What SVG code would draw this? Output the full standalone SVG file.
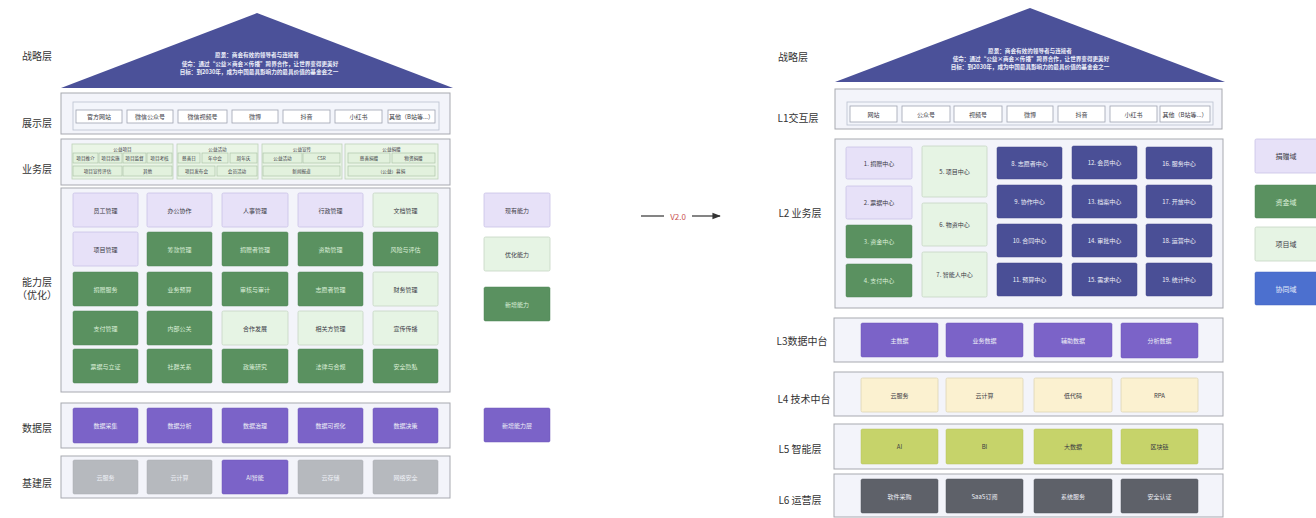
<svg xmlns="http://www.w3.org/2000/svg" width="1316" height="518" viewBox="0 0 1316 518">
<defs>
<style>
text{font-family:"Noto Sans CJK SC","Noto Sans",sans-serif;text-anchor:middle;dominant-baseline:central}
.lbl{font-size:10px;fill:#333;text-anchor:middle}
.roof{fill:#4b5199}
.rt{font-size:5.6px;fill:#eef0fa;font-weight:bold}
.layer{fill:#f3f4fa;stroke:#a7a9b0;stroke-width:1}
.inner{fill:#f3f5fb;stroke:#b9c0cf;stroke-width:0.8}
.wb{fill:#ffffff;stroke:#9ea3b1;stroke-width:0.8}
.lp{fill:#e7e1f8;stroke:#c9c1e6;stroke-width:0.8}
.lg{fill:#e6f4e4;stroke:#c5d5c3;stroke-width:0.8}
.gr{fill:#5a9160;stroke:#4f8456;stroke-width:0.5}
.pu{fill:#7b63c8;stroke:#6c56b8;stroke-width:0.5}
.gy{fill:#b6b9be;stroke:#a9acb2;stroke-width:0.5}
.db{fill:#4a4f96;stroke:#40458a;stroke-width:0.5}
.ly{fill:#fbf1d0;stroke:#ddd5b5;stroke-width:0.8}
.yg{fill:#c6d36a;stroke:#b5c25c;stroke-width:0.5}
.dg{fill:#5e6169;stroke:#53565e;stroke-width:0.5}
.bl{fill:#4c70cf;stroke:#4263bd;stroke-width:0.5}
.bgp{fill:#eaf5e6;stroke:#bdd2b8;stroke-width:0.8}
.bit{fill:#e2f1dd;stroke:#aec6a9;stroke-width:0.7}
.t{font-size:6px;fill:#3a3a44}
.tw{font-size:6px;fill:#eef0f6}
.tg{font-size:6px;fill:#dcefd9}
.ts{font-size:4.6px;fill:#3a3a44}
.tl{font-size:7px;fill:#3a3a44}
</style>
<marker id="ah" viewBox="0 0 10 10" refX="9" refY="5" markerWidth="7" markerHeight="7" orient="auto"><path d="M0,1 L10,5 L0,9 Z" fill="#333"/></marker>
</defs>
<rect width="1316" height="518" fill="#ffffff"/>

<!-- LEFT labels -->
<g id="left-labels">
<text class="lbl" x="37" y="55">战略层</text>
<text class="lbl" x="37" y="122">展示层</text>
<text class="lbl" x="37" y="168">业务层</text>
<text class="lbl" x="37" y="281">能力层</text>
<text class="lbl" x="37" y="294">（优化）</text>
<text class="lbl" x="37" y="427">数据层</text>
<text class="lbl" x="37" y="482">基建层</text>
</g>

<g id="left-roof">
<polygon class="roof" points="61,88 257,13 453,88"/>
<text class="rt" x="257" y="55">愿景：商会有效的领导者与连接者</text>
<text class="rt" x="260" y="63.5">使命：通过“公益×商会×传播”跨界合作，让世界变得更美好</text>
<text class="rt" x="259" y="72">目标：到2030年，成为中国最具影响力的最具价值的基金会之一</text>
</g>

<g id="left-display">
<rect class="layer" x="61" y="93" width="389" height="41"/>
<rect class="inner" x="73" y="102" width="366" height="28"/>
<rect class="wb" x="76" y="110" width="46" height="13"/><text class="t" x="99" y="116.5">官方网站</text>
<rect class="wb" x="127" y="110" width="46" height="13"/><text class="t" x="150" y="116.5">微信公众号</text>
<rect class="wb" x="178" y="110" width="49" height="13"/><text class="t" x="202.5" y="116.5">微信视频号</text>
<rect class="wb" x="232" y="110" width="46" height="13"/><text class="t" x="255" y="116.5">微博</text>
<rect class="wb" x="283" y="110" width="47" height="13"/><text class="t" x="306.5" y="116.5">抖音</text>
<rect class="wb" x="335" y="110" width="47" height="13"/><text class="t" x="358.5" y="116.5">小红书</text>
<rect class="wb" x="388" y="110" width="47" height="13"/><text class="t" x="411.5" y="116.5">其他（B站等...）</text>
</g>

<g id="left-business">
<rect class="layer" x="61" y="139" width="389" height="46"/>
<rect class="bgp" x="72" y="144" width="101" height="35"/>
<text class="ts" x="122.5" y="148.5">公益项目</text>
<rect class="bit" x="73" y="153" width="25" height="10"/><text class="ts" x="85.5" y="158">项目推介</text>
<rect class="bit" x="99" y="153" width="23" height="10"/><text class="ts" x="110.5" y="158">项目实施</text>
<rect class="bit" x="123" y="153" width="23" height="10"/><text class="ts" x="134.5" y="158">项目监督</text>
<rect class="bit" x="147" y="153" width="25" height="10"/><text class="ts" x="159.5" y="158">项目考核</text>
<rect class="bit" x="73" y="166" width="49" height="10"/><text class="ts" x="97.5" y="171">项目宣传评估</text>
<rect class="bit" x="123" y="166" width="49" height="10"/><text class="ts" x="147.5" y="171">其他</text>
<rect class="bgp" x="177" y="144" width="81" height="35"/>
<text class="ts" x="217.5" y="148.5">公益活动</text>
<rect class="bit" x="178" y="153" width="22" height="10"/><text class="ts" x="189" y="158">慈善日</text>
<rect class="bit" x="202" y="153" width="26" height="10"/><text class="ts" x="215" y="158">年中会</text>
<rect class="bit" x="230" y="153" width="27" height="10"/><text class="ts" x="243.5" y="158">周年庆</text>
<rect class="bit" x="178" y="166" width="37" height="10"/><text class="ts" x="196.5" y="171">项目发布会</text>
<rect class="bit" x="217" y="166" width="40" height="10"/><text class="ts" x="237" y="171">会员活动</text>
<rect class="bgp" x="262" y="144" width="80" height="35"/>
<text class="ts" x="302" y="148.5">公益宣传</text>
<rect class="bit" x="263" y="153" width="39" height="10"/><text class="ts" x="282.5" y="158">公益活动</text>
<rect class="bit" x="303" y="153" width="37" height="10"/><text class="ts" x="321.5" y="158">CSR</text>
<rect class="bit" x="263" y="166" width="77" height="10"/><text class="ts" x="301.5" y="171">新闻报道</text>
<rect class="bgp" x="345" y="144" width="93" height="35"/>
<text class="ts" x="391.5" y="148.5">公益捐赠</text>
<rect class="bit" x="348" y="153" width="42" height="10"/><text class="ts" x="369" y="158">慈善捐赠</text>
<rect class="bit" x="392" y="153" width="43" height="10"/><text class="ts" x="413.5" y="158">物资捐赠</text>
<rect class="bit" x="348" y="166" width="87" height="10"/><text class="ts" x="391.5" y="171">（公益）募捐</text>
</g>

<g id="left-capability">
<rect class="layer" x="61" y="188" width="389" height="204"/>
<!-- row1 -->
<g id="cap-1-1"><rect class="lp" x="73" y="193" width="65" height="34" rx="1.5"/><text class="t" x="105.5" y="210">员工管理</text></g>
<g id="cap-1-2"><rect class="lp" x="147" y="193" width="65" height="34" rx="1.5"/><text class="t" x="179.5" y="210">办公协作</text></g>
<g id="cap-1-3"><rect class="lp" x="222" y="193" width="66" height="34" rx="1.5"/><text class="t" x="255" y="210">人事管理</text></g>
<g id="cap-1-4"><rect class="lp" x="298" y="193" width="65" height="34" rx="1.5"/><text class="t" x="330.5" y="210">行政管理</text></g>
<g id="cap-1-5"><rect class="lg" x="373" y="193" width="65" height="34" rx="1.5"/><text class="t" x="405.5" y="210">文档管理</text></g>
<!-- row2 -->
<g id="cap-2-1"><rect class="lp" x="73" y="232" width="65" height="34" rx="1.5"/><text class="t" x="105.5" y="249">项目管理</text></g>
<g id="cap-2-2"><rect class="gr" x="147" y="232" width="65" height="34" rx="1.5"/><text class="tg" x="179.5" y="249">筹款管理</text></g>
<g id="cap-2-3"><rect class="gr" x="222" y="232" width="66" height="34" rx="1.5"/><text class="tg" x="255" y="249">捐赠者管理</text></g>
<g id="cap-2-4"><rect class="gr" x="298" y="232" width="65" height="34" rx="1.5"/><text class="tg" x="330.5" y="249">资助管理</text></g>
<g id="cap-2-5"><rect class="gr" x="373" y="232" width="65" height="34" rx="1.5"/><text class="tg" x="405.5" y="249">风险与评估</text></g>
<!-- row3 -->
<g id="cap-3-1"><rect class="gr" x="73" y="272" width="65" height="34" rx="1.5"/><text class="tg" x="105.5" y="289">捐赠服务</text></g>
<g id="cap-3-2"><rect class="gr" x="147" y="272" width="65" height="34" rx="1.5"/><text class="tg" x="179.5" y="289">业务预算</text></g>
<g id="cap-3-3"><rect class="gr" x="222" y="272" width="66" height="34" rx="1.5"/><text class="tg" x="255" y="289">审核与审计</text></g>
<g id="cap-3-4"><rect class="gr" x="298" y="272" width="65" height="34" rx="1.5"/><text class="tg" x="330.5" y="289">志愿者管理</text></g>
<g id="cap-3-5"><rect class="lg" x="373" y="272" width="65" height="34" rx="1.5"/><text class="t" x="405.5" y="289">财务管理</text></g>
<!-- row4 -->
<g id="cap-4-1"><rect class="gr" x="73" y="311" width="65" height="34" rx="1.5"/><text class="tg" x="105.5" y="328">支付管理</text></g>
<g id="cap-4-2"><rect class="gr" x="147" y="311" width="65" height="34" rx="1.5"/><text class="tg" x="179.5" y="328">内部公关</text></g>
<g id="cap-4-3"><rect class="lg" x="222" y="311" width="66" height="34" rx="1.5"/><text class="t" x="255" y="328">合作发展</text></g>
<g id="cap-4-4"><rect class="lg" x="298" y="311" width="65" height="34" rx="1.5"/><text class="t" x="330.5" y="328">相关方管理</text></g>
<g id="cap-4-5"><rect class="lg" x="373" y="311" width="65" height="34" rx="1.5"/><text class="t" x="405.5" y="328">宣传传播</text></g>
<!-- row5 -->
<g id="cap-5-1"><rect class="gr" x="73" y="349" width="65" height="34" rx="1.5"/><text class="tg" x="105.5" y="366">票据与立证</text></g>
<g id="cap-5-2"><rect class="gr" x="147" y="349" width="65" height="34" rx="1.5"/><text class="tg" x="179.5" y="366">社群关系</text></g>
<g id="cap-5-3"><rect class="gr" x="222" y="349" width="66" height="34" rx="1.5"/><text class="tg" x="255" y="366">政策研究</text></g>
<g id="cap-5-4"><rect class="gr" x="298" y="349" width="65" height="34" rx="1.5"/><text class="tg" x="330.5" y="366">法律与合规</text></g>
<g id="cap-5-5"><rect class="gr" x="373" y="349" width="65" height="34" rx="1.5"/><text class="tg" x="405.5" y="366">安全隐私</text></g>
</g>

<g id="left-data">
<rect class="layer" x="61" y="403" width="389" height="45"/>
<g id="data-1"><rect class="pu" x="73" y="408" width="65" height="35" rx="1.5"/><text class="tw" x="105.5" y="425.5">数据采集</text></g>
<g id="data-2"><rect class="pu" x="147" y="408" width="65" height="35" rx="1.5"/><text class="tw" x="179.5" y="425.5">数据分析</text></g>
<g id="data-3"><rect class="pu" x="222" y="408" width="66" height="35" rx="1.5"/><text class="tw" x="255" y="425.5">数据治理</text></g>
<g id="data-4"><rect class="pu" x="298" y="408" width="65" height="35" rx="1.5"/><text class="tw" x="330.5" y="425.5">数据可视化</text></g>
<g id="data-5"><rect class="pu" x="373" y="408" width="65" height="35" rx="1.5"/><text class="tw" x="405.5" y="425.5">数据决策</text></g>
</g>

<g id="left-base">
<rect class="layer" x="61" y="456" width="389" height="42"/>
<g id="base-1"><rect class="gy" x="73" y="460" width="65" height="34" rx="1.5"/><text class="tw" x="105.5" y="477">云服务</text></g>
<g id="base-2"><rect class="gy" x="147" y="460" width="65" height="34" rx="1.5"/><text class="tw" x="179.5" y="477">云计算</text></g>
<g id="base-3"><rect class="pu" x="222" y="460" width="66" height="34" rx="1.5"/><text class="tw" x="255" y="477">AI智能</text></g>
<g id="base-4"><rect class="gy" x="298" y="460" width="65" height="34" rx="1.5"/><text class="tw" x="330.5" y="477">云存储</text></g>
<g id="base-5"><rect class="gy" x="373" y="460" width="65" height="34" rx="1.5"/><text class="tw" x="405.5" y="477">网络安全</text></g>
</g>

<g id="left-legend">
<g id="lg-1"><rect class="lp" x="484" y="193" width="66" height="34" rx="1.5"/><text class="t" x="517" y="210">现有能力</text></g>
<g id="lg-2"><rect class="lg" x="484" y="237" width="66" height="34" rx="1.5"/><text class="t" x="517" y="254">优化能力</text></g>
<g id="lg-3"><rect class="gr" x="484" y="287" width="66" height="34" rx="1.5"/><text class="tg" x="517" y="304">新增能力</text></g>
<g id="lg-4"><rect class="pu" x="484" y="408" width="66" height="34" rx="1.5"/><text class="tw" x="517" y="425">新增能力层</text></g>
</g>

<g id="connectors">
<line x1="641" y1="216" x2="664" y2="216" stroke="#333" stroke-width="1.2"/>
<text x="678" y="216" style="font-size:8px;fill:#c9524f">V2.0</text>
<line x1="692" y1="216" x2="720" y2="216" stroke="#333" stroke-width="1.2" marker-end="url(#ah)"/>
</g>

<!-- RIGHT labels -->
<g id="right-labels">
<text class="lbl" x="793" y="56">战略层</text>
<text class="lbl" x="798" y="117">L1交互层</text>
<text class="lbl" x="800" y="212">L2 业务层</text>
<text class="lbl" x="802" y="340">L3数据中台</text>
<text class="lbl" x="804" y="398">L4 技术中台</text>
<text class="lbl" x="800" y="448">L5 智能层</text>
<text class="lbl" x="800" y="499">L6 运营层</text>
</g>

<g id="right-roof">
<polygon class="roof" points="835,82 1030,8 1225,82"/>
<text class="rt" x="1030" y="51">愿景：商会有效的领导者与连接者</text>
<text class="rt" x="1031" y="59">使命：通过“公益×商会×传播”跨界合作，让世界变得更美好</text>
<text class="rt" x="1030" y="67">目标：到2030年，成为中国最具影响力的最具价值的基金会之一</text>
</g>

<g id="right-L1">
<rect class="layer" x="835" y="89" width="387" height="40"/>
<rect class="inner" x="847" y="102" width="366" height="23"/>
<rect class="wb" x="850" y="106" width="47" height="16"/><text class="t" x="873.5" y="114">网站</text>
<rect class="wb" x="902" y="106" width="48" height="16"/><text class="t" x="926" y="114">公众号</text>
<rect class="wb" x="954" y="106" width="48" height="16"/><text class="t" x="978" y="114">视频号</text>
<rect class="wb" x="1007" y="106" width="46" height="16"/><text class="t" x="1030" y="114">微博</text>
<rect class="wb" x="1058" y="106" width="47" height="16"/><text class="t" x="1081.5" y="114">抖音</text>
<rect class="wb" x="1110" y="106" width="47" height="16"/><text class="t" x="1133.5" y="114">小红书</text>
<rect class="wb" x="1160" y="106" width="50" height="16"/><text class="t" x="1185" y="114">其他（B站等...）</text>
</g>

<g id="right-L2">
<rect class="layer" x="835" y="139" width="388" height="169"/>
<g id="c1"><rect class="lp" x="846" y="147" width="66" height="32" rx="1.5"/><text class="t" x="879" y="163">1. 捐赠中心</text></g>
<g id="c2"><rect class="lp" x="846" y="186" width="66" height="33" rx="1.5"/><text class="t" x="879" y="202.5">2. 票据中心</text></g>
<g id="c3"><rect class="gr" x="846" y="225" width="66" height="33" rx="1.5"/><text class="tg" x="879" y="241.5">3. 资金中心</text></g>
<g id="c4"><rect class="gr" x="846" y="264" width="66" height="33" rx="1.5"/><text class="tg" x="879" y="280.5">4. 支付中心</text></g>
<g id="c5"><rect class="lg" x="922" y="146" width="65" height="51" rx="1.5"/><text class="t" x="954.5" y="171.5">5. 项目中心</text></g>
<g id="c6"><rect class="lg" x="922" y="203" width="65" height="43" rx="1.5"/><text class="t" x="954.5" y="224.5">6. 物资中心</text></g>
<g id="c7"><rect class="lg" x="922" y="252" width="65" height="45" rx="1.5"/><text class="t" x="954.5" y="274.5">7. 智能人中心</text></g>
<g id="c8"><rect class="db" x="997" y="147" width="65" height="32" rx="1.5"/><text class="tw" x="1029.5" y="163">8. 志愿者中心</text></g>
<g id="c9"><rect class="db" x="997" y="185" width="65" height="33" rx="1.5"/><text class="tw" x="1029.5" y="201.5">9. 协作中心</text></g>
<g id="c10"><rect class="db" x="997" y="224" width="65" height="33" rx="1.5"/><text class="tw" x="1029.5" y="240.5">10. 合同中心</text></g>
<g id="c11"><rect class="db" x="997" y="263" width="65" height="33" rx="1.5"/><text class="tw" x="1029.5" y="279.5">11. 预算中心</text></g>
<g id="c12"><rect class="db" x="1072" y="146" width="65" height="33" rx="1.5"/><text class="tw" x="1104.5" y="162.5">12. 会员中心</text></g>
<g id="c13"><rect class="db" x="1072" y="185" width="65" height="33" rx="1.5"/><text class="tw" x="1104.5" y="201.5">13. 档案中心</text></g>
<g id="c14"><rect class="db" x="1072" y="224" width="65" height="33" rx="1.5"/><text class="tw" x="1104.5" y="240.5">14. 审批中心</text></g>
<g id="c15"><rect class="db" x="1072" y="263" width="65" height="33" rx="1.5"/><text class="tw" x="1104.5" y="279.5">15. 需求中心</text></g>
<g id="c16"><rect class="db" x="1146" y="147" width="66" height="32" rx="1.5"/><text class="tw" x="1179" y="163">16. 服务中心</text></g>
<g id="c17"><rect class="db" x="1146" y="185" width="66" height="33" rx="1.5"/><text class="tw" x="1179" y="201.5">17. 开放中心</text></g>
<g id="c18"><rect class="db" x="1146" y="224" width="66" height="33" rx="1.5"/><text class="tw" x="1179" y="240.5">18. 运营中心</text></g>
<g id="c19"><rect class="db" x="1146" y="263" width="66" height="33" rx="1.5"/><text class="tw" x="1179" y="279.5">19. 统计中心</text></g>
</g>

<g id="right-L3">
<rect class="layer" x="834" y="318" width="389" height="44"/>
<g id="l3-1"><rect class="pu" x="861" y="323" width="77" height="34" rx="1.5"/><text class="tw" x="899.5" y="340">主数据</text></g>
<g id="l3-2"><rect class="pu" x="946" y="323" width="77" height="34" rx="1.5"/><text class="tw" x="984.5" y="340">业务数据</text></g>
<g id="l3-3"><rect class="pu" x="1034" y="323" width="78" height="34" rx="1.5"/><text class="tw" x="1073" y="340">辅助数据</text></g>
<g id="l3-4"><rect class="pu" x="1121" y="323" width="77" height="35" rx="1.5"/><text class="tw" x="1159.5" y="340.5">分析数据</text></g>
</g>

<g id="right-L4">
<rect class="layer" x="834" y="372" width="389" height="44"/>
<g id="l4-1"><rect class="ly" x="861" y="378" width="77" height="34" rx="1.5"/><text class="t" x="899.5" y="395">云服务</text></g>
<g id="l4-2"><rect class="ly" x="946" y="378" width="77" height="34" rx="1.5"/><text class="t" x="984.5" y="395">云计算</text></g>
<g id="l4-3"><rect class="ly" x="1034" y="378" width="78" height="34" rx="1.5"/><text class="t" x="1073" y="395">低代码</text></g>
<g id="l4-4"><rect class="ly" x="1121" y="378" width="77" height="34" rx="1.5"/><text class="t" x="1159.5" y="395">RPA</text></g>
</g>

<g id="right-L5">
<rect class="layer" x="834" y="424" width="389" height="45"/>
<g id="l5-1"><rect class="yg" x="861" y="429" width="77" height="35" rx="1.5"/><text class="t" x="899.5" y="446.5">AI</text></g>
<g id="l5-2"><rect class="yg" x="946" y="429" width="77" height="35" rx="1.5"/><text class="t" x="984.5" y="446.5">BI</text></g>
<g id="l5-3"><rect class="yg" x="1034" y="429" width="78" height="35" rx="1.5"/><text class="t" x="1073" y="446.5">大数据</text></g>
<g id="l5-4"><rect class="yg" x="1121" y="429" width="77" height="35" rx="1.5"/><text class="t" x="1159.5" y="446.5">区块链</text></g>
</g>

<g id="right-L6">
<rect class="layer" x="834" y="474" width="389" height="43"/>
<g id="l6-1"><rect class="dg" x="861" y="479" width="77" height="34" rx="1.5"/><text class="tw" x="899.5" y="496">软件采购</text></g>
<g id="l6-2"><rect class="dg" x="946" y="479" width="77" height="34" rx="1.5"/><text class="tw" x="984.5" y="496">SaaS订阅</text></g>
<g id="l6-3"><rect class="dg" x="1034" y="479" width="78" height="34" rx="1.5"/><text class="tw" x="1073" y="496">系统服务</text></g>
<g id="l6-4"><rect class="dg" x="1121" y="479" width="77" height="34" rx="1.5"/><text class="tw" x="1159.5" y="496">安全认证</text></g>
</g>

<g id="right-legend">
<g id="rl-1"><rect class="lp" x="1255" y="139" width="64" height="34" rx="1.5"/><text class="tl" x="1286" y="156">捐赠域</text></g>
<g id="rl-2"><rect class="gr" x="1255" y="185" width="64" height="33" rx="1.5"/><text class="tl" x="1286" y="201.5" style="fill:#dcefd9">资金域</text></g>
<g id="rl-3"><rect class="lg" x="1255" y="227" width="64" height="34" rx="1.5"/><text class="tl" x="1286" y="244">项目域</text></g>
<g id="rl-4"><rect class="bl" x="1255" y="272" width="64" height="33" rx="1.5"/><text class="tl" x="1286" y="288.5" style="fill:#e6ecfa">协同域</text></g>
</g>
</svg>
